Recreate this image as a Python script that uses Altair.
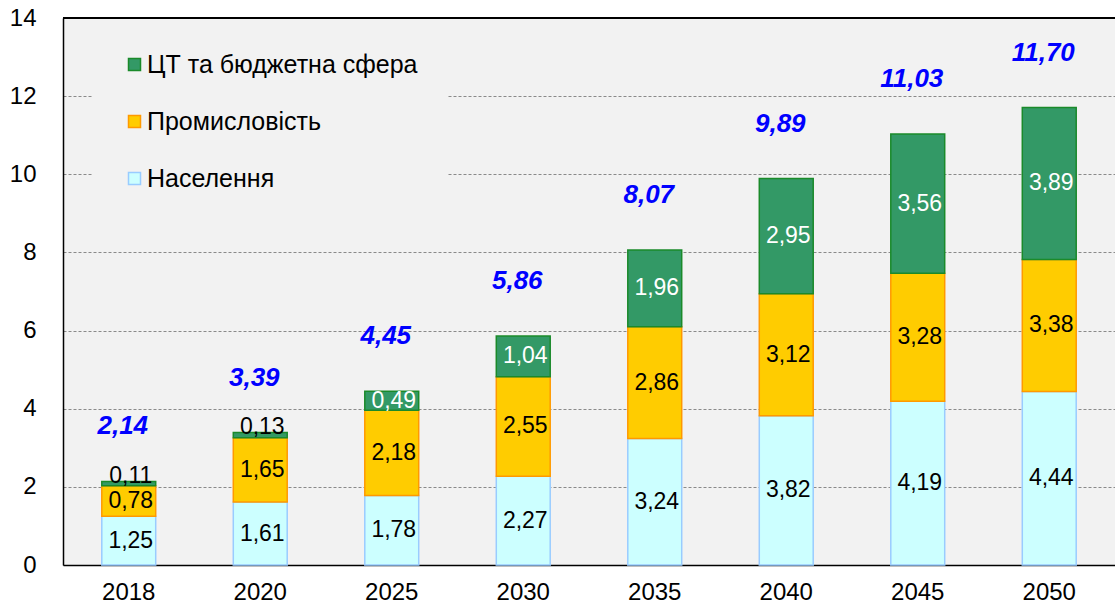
import altair as alt
import pandas as pd

years = ["2018", "2020", "2025", "2030", "2035", "2040", "2045", "2050"]
series_names = ["Населення", "Промисловість", "ЦТ та бюджетна сфера"]
naselennya = [1.25, 1.61, 1.78, 2.27, 3.24, 3.82, 4.19, 4.44]
promyslovist = [0.78, 1.65, 2.18, 2.55, 2.86, 3.12, 3.28, 3.38]
ct_budget = [0.11, 0.13, 0.49, 1.04, 1.96, 2.95, 3.56, 3.89]
totals = [2.14, 3.39, 4.45, 5.86, 8.07, 9.89, 11.03, 11.70]

FONT = "Liberation Sans"

rows = []
for i, yr in enumerate(years):
    start = 0.0
    for k, (name, vals) in enumerate(zip(series_names, [naselennya, promyslovist, ct_budget])):
        v = vals[i]
        rows.append(dict(year=yr, series=name, ord=k, value=v, start=start,
                         end=start + v,
                         # thin segments get their label just above the segment
                         ypos=(start + v + 0.14) if v < 0.2 else (start + v / 2),
                         label=f"{v:.2f}".replace(".", ",")))
        start += v
seg = pd.DataFrame(rows)
tot = pd.DataFrame(dict(year=years, total=totals,
                        label=[f"{t:.2f}".replace(".", ",") for t in totals]))

legend_order = ["ЦТ та бюджетна сфера", "Промисловість", "Населення"]
fill_colors = ["#339966", "#FFCC00", "#CCFFFF"]
stroke_colors = ["#1a8a2a", "#FF9900", "#99CCFF"]

xscale = alt.Scale(paddingInner=0.59, paddingOuter=0.295)
yscale = alt.Scale(domain=[0, 14], nice=False, zero=True)

legend_cfg = dict(title=None, orient="none", legendX=29, legendY=4,
                  padding=30, fillColor="#F2F2F2",
                  symbolType="square", symbolSize=144,
                  symbolStrokeWidth=1.5, labelFontSize=25,
                  labelFont=FONT, labelColor="#000000", labelLimit=0,
                  labelOffset=0, rowPadding=31)

x_enc = alt.X("year:N", scale=xscale, sort=years,
              axis=alt.Axis(title=None, labelAngle=0, ticks=False, labelPadding=15,
                            labelFontSize=24, labelFont=FONT, labelColor="#000000",
                            domainColor="#000000", domainWidth=1.5))

bars = alt.Chart(seg).mark_bar(strokeWidth=1.5).encode(
    x=x_enc,
    y=alt.Y("start:Q", scale=yscale,
            axis=alt.Axis(title=None, values=list(range(0, 15, 2)), ticks=False,
                          labelPadding=27, labelFontSize=24, labelFont=FONT,
                          labelColor="#000000", domainColor="#000000", domainWidth=1.5,
                          grid=True, gridColor="#8a8a8a", gridDash=[3, 2], gridWidth=1)),
    y2="end:Q",
    fill=alt.Fill("series:N", scale=alt.Scale(domain=legend_order, range=fill_colors),
                  legend=alt.Legend(**legend_cfg)),
    stroke=alt.Stroke("series:N", scale=alt.Scale(domain=legend_order, range=stroke_colors),
                      legend=alt.Legend(**legend_cfg)),
)

seg_text = alt.Chart(seg).mark_text(fontSize=23, font=FONT, baseline="middle", dx=2).encode(
    x=alt.X("year:N", scale=xscale, sort=years),
    y=alt.Y("ypos:Q", scale=yscale),
    text="label:N",
    color=alt.condition("datum.series == 'ЦТ та бюджетна сфера' && datum.value > 0.3",
                        alt.value("#FFFFFF"), alt.value("#000000")),
)

tot_text = alt.Chart(tot).mark_text(fontSize=26, font=FONT, fontWeight="bold",
                                    fontStyle="italic", color="#0000FF",
                                    baseline="middle", dx=-6, dy=-55).encode(
    x=alt.X("year:N", scale=xscale, sort=years),
    y=alt.Y("total:Q", scale=yscale),
    text="label:N",
)

top_border = alt.Chart(tot).mark_rule(color="#000000", strokeWidth=1.5).encode(
    y=alt.datum(14)
)

chart = alt.layer(bars, seg_text, tot_text, top_border).properties(
    width=1052, height=547,
    autosize=alt.AutoSizeParams(type="none"),
    padding={"left": 63, "top": 18, "right": 0, "bottom": 43},
    background="#FFFFFF",
).configure_view(fill="#F2F2F2", stroke=None)

chart.save("out.html", embed_options={"renderer": "svg", "actions": False})
